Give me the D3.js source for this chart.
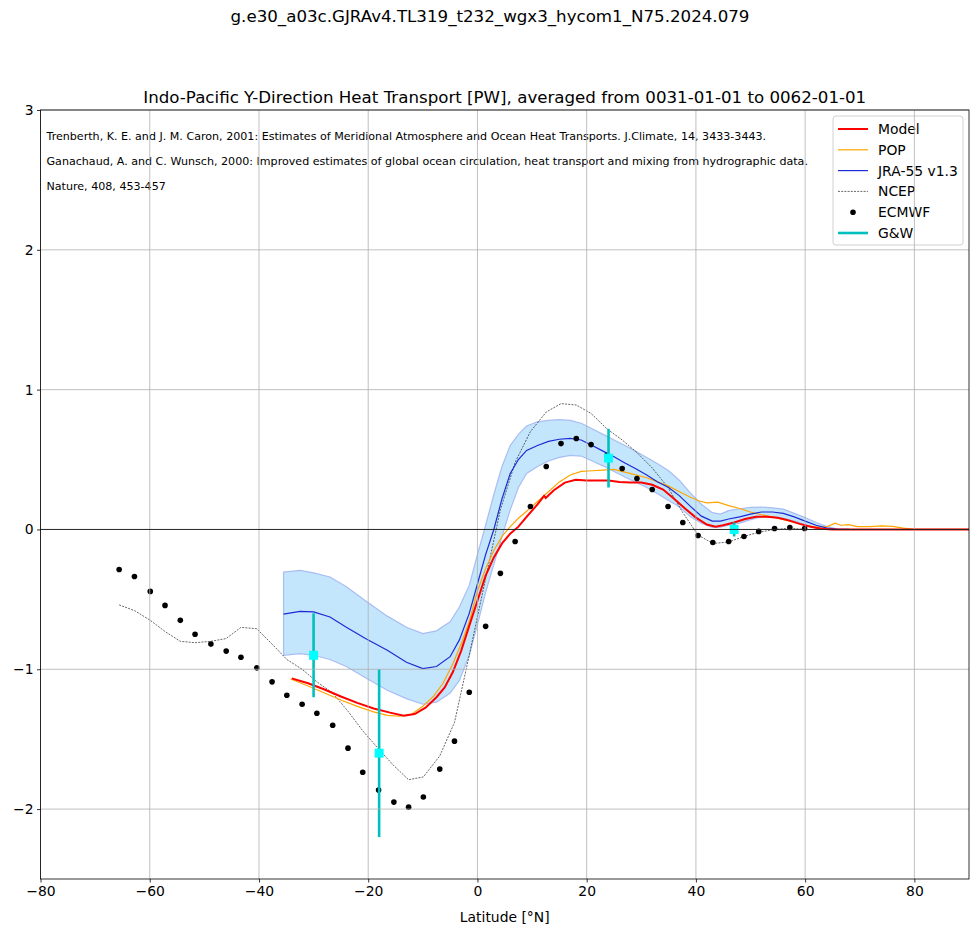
<!doctype html>
<html lang="en">
<head>
<meta charset="UTF-8">
<script src="https://cdnjs.cloudflare.com/ajax/libs/d3/7.8.5/d3.min.js"></script>
<title>Indo-Pacific heat transport</title>
<style>
  body { margin: 0; background: #fff; }
  text { font-family: "DejaVu Sans", sans-serif; }
</style>
</head>
<body>
<div id="chart"></div>
<script>
// ---- data ----
const modelLat = [-34, -31, -28, -25, -22, -19, -16, -13.5, -11.5, -9.5, -7.5, -6, -4.5, -3, -1.5, 0, 1.5, 3, 4.5, 6, 7.5, 9, 11, 12.2, 12.5, 14, 16, 18, 20, 22, 24, 26, 28, 30, 32, 34, 36, 38, 40, 42, 43.6, 45, 47, 49, 51, 53, 55, 57, 59, 61, 63, 65, 90];
const modelVal = [-1.065, -1.1, -1.145, -1.195, -1.24, -1.28, -1.31, -1.332, -1.32, -1.275, -1.2, -1.13, -1.02, -0.87, -0.69, -0.51, -0.33, -0.2, -0.1, -0.03, 0.02, 0.09, 0.18, 0.24, 0.225, 0.28, 0.335, 0.355, 0.35, 0.35, 0.35, 0.34, 0.335, 0.335, 0.32, 0.285, 0.22, 0.15, 0.085, 0.035, 0.02, 0.03, 0.05, 0.075, 0.09, 0.09, 0.083, 0.065, 0.04, 0.02, 0.005, 0, 0];

const popLat = [-34.2, -31, -28, -25, -22, -19, -16.5, -14.2, -12, -10, -8, -6.3, -4.5, -3, -1.5, 0, 1.5, 3, 4.5, 6, 7.5, 9, 11, 13, 15, 17, 19, 21, 23, 25, 27, 29, 31, 33, 35, 37, 39, 40.5, 42, 44, 46, 48, 50, 52, 54, 56, 58, 60, 62, 64, 65.5, 66.5, 68, 69.5, 72, 74, 76, 78, 80, 90];
const popVal = [-1.07, -1.12, -1.17, -1.22, -1.265, -1.305, -1.33, -1.336, -1.32, -1.265, -1.19, -1.1, -0.96, -0.82, -0.66, -0.44, -0.28, -0.15, -0.05, 0.02, 0.08, 0.13, 0.2, 0.27, 0.34, 0.39, 0.415, 0.42, 0.425, 0.43, 0.41, 0.39, 0.37, 0.34, 0.31, 0.27, 0.23, 0.205, 0.19, 0.195, 0.17, 0.15, 0.125, 0.105, 0.09, 0.07, 0.05, 0.03, 0.017, 0.02, 0.045, 0.03, 0.035, 0.02, 0.02, 0.025, 0.022, 0.01, 0, 0];

const jraLat = [-35.5, -32.5, -30, -27, -24, -20.5, -16.5, -13, -10, -7.5, -5, -3.3, -1.5, 0, 1.5, 3, 4.5, 6, 7.5, 9, 11, 13, 15, 17, 19, 21, 23, 25, 27, 29, 31, 33, 35, 37, 39, 41, 43, 44.5, 46, 48, 50, 52, 54, 56, 58, 60, 62, 64, 66, 68];
const jraVal = [-0.605, -0.586, -0.59, -0.626, -0.7, -0.78, -0.864, -0.95, -0.995, -0.98, -0.91, -0.79, -0.6, -0.39, -0.18, 0.0, 0.22, 0.4, 0.5, 0.565, 0.6, 0.63, 0.645, 0.652, 0.64, 0.6, 0.56, 0.52, 0.475, 0.434, 0.39, 0.34, 0.3, 0.24, 0.165, 0.095, 0.06, 0.06, 0.075, 0.09, 0.11, 0.125, 0.125, 0.115, 0.09, 0.06, 0.03, 0.01, 0.0, 0];
const jraHigh = [-0.305, -0.293, -0.31, -0.34, -0.41, -0.51, -0.62, -0.7, -0.745, -0.725, -0.66, -0.555, -0.4, -0.18, 0.03, 0.25, 0.45, 0.6, 0.68, 0.74, 0.77, 0.78, 0.785, 0.78, 0.76, 0.72, 0.68, 0.64, 0.6, 0.56, 0.515, 0.47, 0.42, 0.35, 0.26, 0.18, 0.12, 0.11, 0.135, 0.148, 0.158, 0.16, 0.155, 0.145, 0.115, 0.085, 0.05, 0.02, 0.003, 0];
const jraLow = [-0.9, -0.888, -0.9, -0.93, -0.98, -1.06, -1.15, -1.21, -1.25, -1.235, -1.17, -1.08, -0.9, -0.68, -0.45, -0.25, -0.05, 0.14, 0.3, 0.4, 0.45, 0.49, 0.515, 0.53, 0.525, 0.49, 0.455, 0.415, 0.375, 0.338, 0.3, 0.255, 0.207, 0.16, 0.09, 0.045, 0.015, 0.016, 0.03, 0.045, 0.07, 0.09, 0.09, 0.08, 0.06, 0.035, 0.01, 0, 0, 0];

const obsLat = [-65.6, -62.8, -59.9, -57.2, -54.4, -51.7, -48.8, -46.0, -43.3, -40.4, -37.6, -34.9, -32.1, -29.4, -26.5, -23.7, -21.0, -18.1, -15.3, -12.6, -9.9, -6.9, -4.2, -1.5, 1.5, 4.2, 6.9, 9.7, 12.6, 15.3, 18.1, 20.8, 23.7, 26.5, 29.2, 32.0, 34.9, 37.6, 40.4, 43.1, 46.0, 48.8, 51.5, 54.4, 57.2, 59.9];
const ncepVal = [-0.54, -0.58, -0.65, -0.73, -0.8, -0.81, -0.8, -0.78, -0.7, -0.71, -0.82, -0.93, -1.0, -1.09, -1.17, -1.3, -1.44, -1.57, -1.69, -1.79, -1.77, -1.62, -1.38, -0.9, -0.35, 0.14, 0.48, 0.7, 0.84, 0.9, 0.89, 0.83, 0.72, 0.64, 0.55, 0.44, 0.3, 0.12, -0.04, -0.1, -0.09, -0.05, -0.02, 0.0, 0.01, 0.0];
const ecmwfVal = [-0.286, -0.336, -0.443, -0.543, -0.65, -0.75, -0.82, -0.87, -0.914, -0.99, -1.09, -1.186, -1.25, -1.314, -1.4, -1.564, -1.736, -1.864, -1.95, -1.986, -1.914, -1.714, -1.514, -1.164, -0.693, -0.314, -0.086, 0.164, 0.45, 0.614, 0.65, 0.607, 0.529, 0.436, 0.364, 0.286, 0.164, 0.05, -0.043, -0.093, -0.086, -0.05, -0.014, 0.007, 0.014, 0.007];

const gwLat = [-30, -18, 24, 47];
const gwVal = [-0.9, -1.6, 0.51, 0.0];
const gwErr = [0.3, 0.6, 0.21, 0.05];

const xTicks = [-80, -60, -40, -20, 0, 20, 40, 60, 80];
const yTicks = [-2, -1, 0, 1, 2, 3];

const refLines = [
  "Trenberth, K. E. and J. M. Caron, 2001: Estimates of Meridional Atmosphere and Ocean Heat Transports. J.Climate, 14, 3433-3443.",
  "Ganachaud, A. and C. Wunsch, 2000: Improved estimates of global ocean circulation, heat transport and mixing from hydrographic data.",
  "Nature, 408, 453-457"
];

// ---- layout ----
const W = 980, H = 935;
const margin = {top: 110, right: 11, bottom: 56, left: 40.5};
const width = W - margin.left - margin.right,
      height = H - margin.top - margin.bottom;

const svg = d3.select('#chart').append('svg')
    .attr('width', W).attr('height', H);

svg.append('text').attr('x', 490).attr('y', 22)
    .attr('text-anchor', 'middle').style('font-size', '16.67px')
    .text('g.e30_a03c.GJRAv4.TL319_t232_wgx3_hycom1_N75.2024.079');

const g = svg.append('g').attr('transform', `translate(${margin.left},${margin.top})`);

g.append('text').attr('x', width / 2).attr('y', -7)
    .attr('text-anchor', 'middle').style('font-size', '16.67px')
    .text('Indo-Pacific Y-Direction Heat Transport [PW], averaged from 0031-01-01 to 0062-01-01');

const x = d3.scaleLinear().domain([-80, 90]).range([0, width]);
const y = d3.scaleLinear().domain([-2.5, 3]).range([height, 0]);

g.append('clipPath').attr('id', 'clip')
  .append('rect').attr('width', width).attr('height', height);
const plot = g.append('g').attr('clip-path', 'url(#clip)');

const pts = (lats, vals) => lats.map((d, i) => [d, vals[i]]);
const line = d3.line().x(d => x(d[0])).y(d => y(d[1]));

// JRA spread band
const band = jraLat.map((d, i) => ({lat: d, lo: jraLow[i], hi: jraHigh[i]}));
plot.append('path').datum(band)
    .attr('fill', '#87cefa').attr('fill-opacity', 0.5)
    .attr('stroke', '#a9bdf2').attr('stroke-width', 1.2)
    .attr('d', d3.area().x(d => x(d.lat)).y0(d => y(d.lo)).y1(d => y(d.hi)));

plot.append('path').datum(pts(obsLat, ncepVal))
    .attr('fill', 'none').attr('stroke', '#000').attr('stroke-width', 0.6)
    .attr('stroke-dasharray', '2,1.2').attr('d', line);

plot.append('path').datum(pts(popLat, popVal))
    .attr('fill', 'none').attr('stroke', '#ffa500').attr('stroke-width', 1.2).attr('d', line);

plot.append('path').datum(pts(jraLat, jraVal))
    .attr('fill', 'none').attr('stroke', '#1c2bd4').attr('stroke-width', 1.2).attr('d', line);

plot.append('path').datum(pts(modelLat, modelVal))
    .attr('fill', 'none').attr('stroke', '#ff0000').attr('stroke-width', 2).attr('d', line);

plot.selectAll('circle.ecmwf').data(pts(obsLat, ecmwfVal)).join('circle')
    .attr('class', 'ecmwf')
    .attr('cx', d => x(d[0])).attr('cy', d => y(d[1])).attr('r', 2.8).attr('fill', '#000');

// G&W error bars
const gw = gwLat.map((d, i) => ({lat: d, v: gwVal[i], e: gwErr[i]}));
plot.selectAll('line.gw').data(gw).join('line')
    .attr('class', 'gw')
    .attr('x1', d => x(d.lat)).attr('x2', d => x(d.lat))
    .attr('y1', d => y(d.v + d.e)).attr('y2', d => y(d.v - d.e))
    .attr('stroke', '#00bfbf').attr('stroke-width', 2.6);
plot.selectAll('rect.gw').data(gw).join('rect')
    .attr('class', 'gw')
    .attr('x', d => x(d.lat) - 4.5).attr('y', d => y(d.v) - 4.5)
    .attr('width', 9).attr('height', 9).attr('fill', '#00ffff');

// reference text
g.selectAll('text.ref').data(refLines).join('text')
    .attr('class', 'ref')
    .attr('x', 6).attr('y', (d, i) => 30 + i * 25)
    .style('font-size', '11.1px')
    .text(d => d);

// legend
const legendItems = [
  {name: 'Model', type: 'line', color: '#ff0000', w: 2},
  {name: 'POP', type: 'line', color: '#ffa500', w: 1.2},
  {name: 'JRA-55 v1.3', type: 'line', color: '#1c2bd4', w: 1.2},
  {name: 'NCEP', type: 'dash', color: '#000', w: 0.6},
  {name: 'ECMWF', type: 'dot', color: '#000'},
  {name: 'G&W', type: 'line', color: '#00bfbf', w: 2.6}
];
const lg = g.append('g').attr('transform', `translate(${833 - margin.left},${116 - margin.top})`);
lg.append('rect').attr('width', 130).attr('height', 129).attr('rx', 3)
    .attr('fill', '#fff').attr('fill-opacity', 0.8)
    .attr('stroke', '#d0d0d0').attr('stroke-width', 1);
legendItems.forEach((d, i) => {
  const yy = 13 + i * 20.8;
  if (d.type === 'dot') {
    lg.append('circle').attr('cx', 20).attr('cy', yy).attr('r', 2.8).attr('fill', d.color);
  } else {
    lg.append('line').attr('x1', 5).attr('x2', 35).attr('y1', yy).attr('y2', yy)
      .attr('stroke', d.color).attr('stroke-width', d.w)
      .attr('stroke-dasharray', d.type === 'dash' ? '2,1.2' : null);
  }
  lg.append('text').attr('x', 45).attr('y', yy + 5).style('font-size', '13.9px').text(d.name);
});

// grid, drawn on top as in the reference
g.append('g').selectAll('line').data(xTicks).join('line')
    .attr('x1', d => x(d)).attr('x2', d => x(d)).attr('y1', 0).attr('y2', height)
    .attr('stroke', '#b0b0b0').attr('stroke-width', 0.8);
g.append('g').selectAll('line').data(yTicks).join('line')
    .attr('x1', 0).attr('x2', width).attr('y1', d => y(d)).attr('y2', d => y(d))
    .attr('stroke', '#b0b0b0').attr('stroke-width', 0.8);

// zero line above the grid
g.append('line').attr('x1', 0).attr('x2', width)
    .attr('y1', y(0)).attr('y2', y(0))
    .attr('stroke', '#000').attr('stroke-width', 0.8);

// axes
const fmt = d => d < 0 ? '\u2212' + Math.abs(d) : String(d);
const xAxis = g.append('g').attr('transform', `translate(0,${height})`)
    .call(d3.axisBottom(x).tickValues(xTicks).tickFormat(fmt).tickSizeOuter(0).tickSize(3.5).tickPadding(3.5));
const yAxis = g.append('g')
    .call(d3.axisLeft(y).tickValues(yTicks).tickFormat(fmt).tickSizeOuter(0).tickSize(3.5).tickPadding(3.5));
[xAxis, yAxis].forEach(a => {
  a.selectAll('text').style('font-size', '13.9px').style('font-family', '"DejaVu Sans", sans-serif').attr('fill', '#000');
  a.selectAll('line').attr('stroke', '#000').attr('stroke-width', 0.8);
  a.select('.domain').remove();
});
g.append('rect').attr('width', width).attr('height', height)
    .attr('fill', 'none').attr('stroke', '#000').attr('stroke-width', 0.8);

g.append('text').attr('x', width / 2).attr('y', height + 43)
    .attr('text-anchor', 'middle').style('font-size', '13.9px')
    .text('Latitude [°N]');
</script>
</body>
</html>
